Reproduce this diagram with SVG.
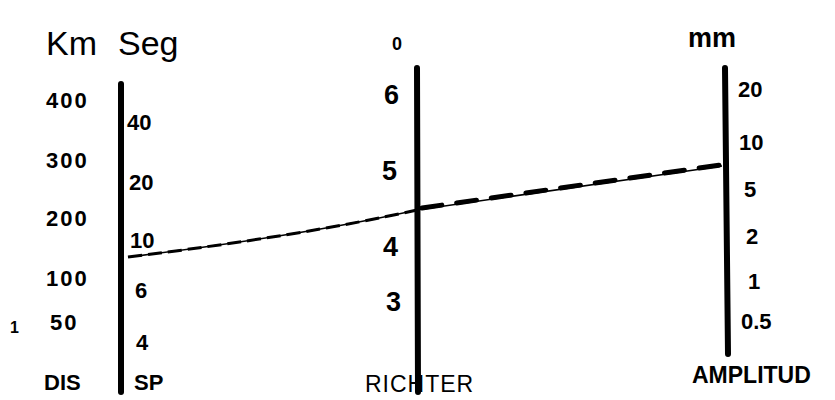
<svg xmlns="http://www.w3.org/2000/svg" width="835" height="400" viewBox="0 0 835 400">
<style>
.t{font-family:"Liberation Sans","DejaVu Sans",sans-serif;font-weight:bold;fill:#000;font-size:22px}
.big{font-size:34px;font-weight:normal}
.mid{font-size:27px}
.axis{stroke:#000;stroke-width:6;stroke-linecap:round}
</style>
<rect width="835" height="400" fill="#fff"/>
<g id="distance-scale">
<line class="axis" x1="121" y1="84" x2="121" y2="392"/>
<text class="t big" x="46" y="55">Km</text>
<text class="t" x="46" y="108" letter-spacing="2">400</text>
<text class="t" x="46" y="168" letter-spacing="2">300</text>
<text class="t" x="46" y="226" letter-spacing="2">200</text>
<text class="t" x="46" y="286" letter-spacing="2">100</text>
<text class="t" x="10" y="333" style="font-size:16px">1</text>
<text class="t" x="50" y="330" letter-spacing="2">50</text>
<text class="t" x="44" y="390">DIS</text>
</g>
<g id="sp-scale">
<text class="t big" x="118" y="55">Seg</text>
<text class="t" x="127" y="130">40</text>
<text class="t" x="129" y="190">20</text>
<text class="t" x="130" y="248">10</text>
<text class="t" x="135" y="298">6</text>
<text class="t" x="136" y="350">4</text>
<text class="t" x="134" y="390">SP</text>
</g>
<g id="richter-scale">
<line class="axis" x1="417" y1="68" x2="418" y2="392"/>
<text class="t" x="392" y="50" style="font-size:18px">0</text>
<text class="t mid" x="384" y="104">6</text>
<text class="t mid" x="382" y="180">5</text>
<text class="t mid" x="383" y="256">4</text>
<text class="t mid" x="386" y="311">3</text>
<text class="t" x="365" y="392" style="font-size:23px;font-weight:normal" letter-spacing="1">RICHTER</text>
</g>
<g id="amplitude-scale">
<line class="axis" x1="725" y1="68" x2="728" y2="354"/>
<text class="t" x="688" y="47" style="font-size:27px">mm</text>
<text class="t" x="738" y="97">20</text>
<text class="t" x="739" y="150">10</text>
<text class="t" x="744" y="197">5</text>
<text class="t" x="746" y="244">2</text>
<text class="t" x="748" y="289">1</text>
<text class="t" x="741" y="329">0.5</text>
<text class="t" x="692" y="383" style="font-size:23px">AMPLITUD</text>
</g>
<g id="connectors">
<path d="M128,257 Q300,236 417,210 L722,166" fill="none" stroke="#000" stroke-width="1.5"/>
<path d="M128,257 Q300,236 417,210" fill="none" stroke="#000" stroke-width="3" stroke-dasharray="14,6"/>
<path d="M422,208 L720,165" fill="none" stroke="#000" stroke-width="5" stroke-dasharray="20,15" stroke-linecap="round"/>
</g>
</svg>
